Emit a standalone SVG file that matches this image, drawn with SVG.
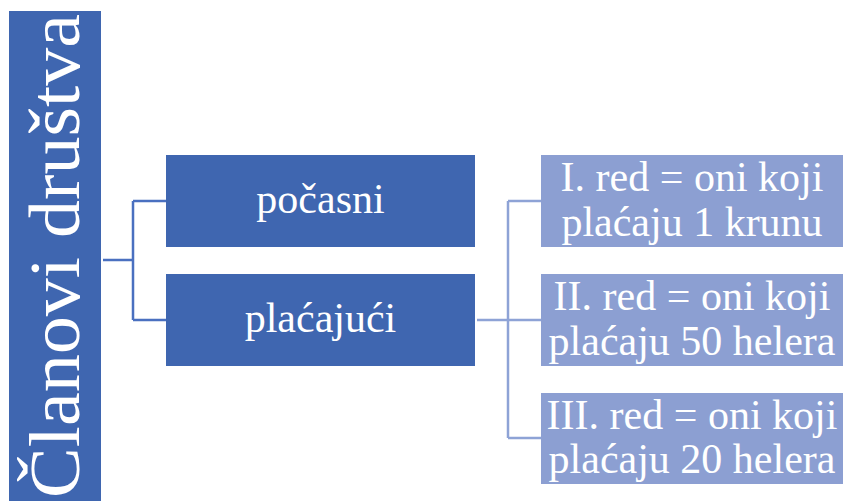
<svg xmlns="http://www.w3.org/2000/svg" width="847" height="501" viewBox="0 0 847 501">
<style>
.dark{fill:#3F66B0;}
.light{fill:#8C9FD2;}
.t{font-family:"Liberation Serif","DejaVu Serif",serif;fill:#ffffff;text-anchor:middle;}
.c1{fill:none;stroke:#4A70C0;stroke-width:2.5;}
.c2{fill:none;stroke:#8EA3D6;stroke-width:2.5;}
</style>
<rect width="847" height="501" fill="#ffffff"/>
<g id="root">
<rect class="dark" x="9" y="11" width="92" height="490"/>
<text class="t" font-family="Liberation Serif, serif" font-size="71" transform="translate(79,256) rotate(-90)" textLength="484" lengthAdjust="spacingAndGlyphs">Članovi društva</text>
</g>
<g id="connectors">
<path class="c1" d="M103,260 H133 M133,201 V320 M133,201 H166 M133,320 H166"/>
<path class="c2" d="M477,320 H508 M508,201 V438 M508,201 H541 M508,320 H541 M508,438 H541"/>
</g>
<g id="pocasni">
<rect class="dark" x="166" y="155" width="309" height="92"/>
<text class="t" font-size="42" x="320.5" y="213">počasni</text>
</g>
<g id="placajuci">
<rect class="dark" x="166" y="274" width="309" height="92"/>
<text class="t" font-size="42" x="320.5" y="332">plaćajući</text>
</g>
<g id="red1">
<rect class="light" x="541" y="155" width="302" height="92"/>
<text class="t" font-size="42" x="692" y="191">I. red = oni koji</text>
<text class="t" font-size="42" x="692" y="236">plaćaju 1 krunu</text>
</g>
<g id="red2">
<rect class="light" x="541" y="274" width="302" height="92"/>
<text class="t" font-size="42" x="692" y="310">II. red = oni koji</text>
<text class="t" font-size="42" x="692" y="355">plaćaju 50 helera</text>
</g>
<g id="red3">
<rect class="light" x="541" y="393" width="302" height="91"/>
<text class="t" font-size="42" x="692" y="429">III. red = oni koji</text>
<text class="t" font-size="42" x="692" y="473">plaćaju 20 helera</text>
</g>
</svg>
